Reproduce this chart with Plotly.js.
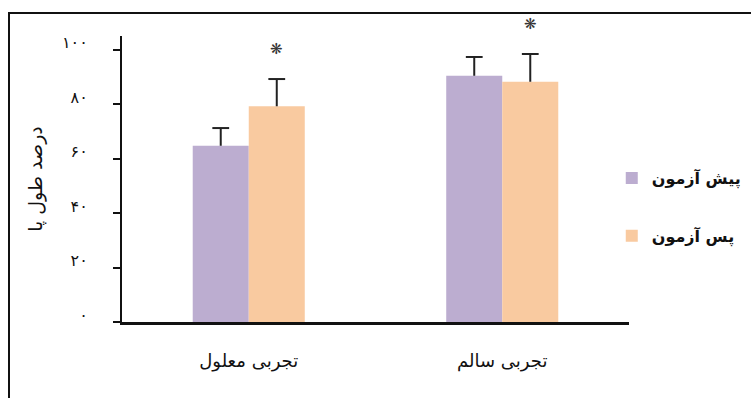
<!DOCTYPE html>
<html>
<head>
<meta charset="utf-8">
<script src="https://cdn.plot.ly/plotly-3.0.1.min.js"></script>
<style>
html, body { margin: 0; padding: 0; background: #fff; }
#wrap { position: relative; width: 751px; height: 398px; overflow: hidden; }
#chart { width: 751px; height: 398px; }
#frame { position: absolute; left: 8px; top: 12px; width: 800px; height: 500px;
  border-left: 2px solid #111; border-top: 2px solid #111; pointer-events: none; }
</style>
</head>
<body>
<div id="wrap">
  <div id="chart"></div>
  <div id="frame"></div>
</div>
<script>
// ---- data ----
const categories = ["تجربی معلول", "تجربی سالم"];
const seriesNames = ["پیش آزمون", "پس آزمون"];
const preValues = [64.7, 90.4];
const preErrors = [6.5, 6.9];
const postValues = [79.2, 88.2];
const postErrors = [10.0, 10.2];
const postSignificant = [true, true];
const yTickValues = [0, 20, 40, 60, 80, 100];
const yTickLabels = ["۰", "۲۰", "۴۰", "۶۰", "۸۰", "۱۰۰"];
const yTitle = "درصد طول پا";

const FONT = "DejaVu Sans, sans-serif";
const colors = ["rgb(188,173,208)", "rgb(249,202,160)"];
const seriesValues = [preValues, postValues];
const seriesErrors = [preErrors, postErrors];

const traces = [];
seriesValues.forEach((vals, s) => {
  traces.push({
    type: "bar", name: seriesNames[s], x: categories, y: vals,
    legendgroup: "g" + s, offsetgroup: "o" + s,
    marker: { color: colors[s] },
    error_y: { type: "data", symmetric: false, array: seriesErrors[s],
               arrayminus: vals.map(() => 0), color: "#222", thickness: 2, width: 0 }
  });
});
// caps on top of error bars
seriesValues.forEach((vals, s) => {
  traces.push({
    type: "scatter", mode: "markers", x: categories,
    y: vals.map((v, i) => v + seriesErrors[s][i]),
    offsetgroup: "o" + s, showlegend: false, hoverinfo: "skip",
    marker: { symbol: "line-ew", size: 12, color: "#222", line: { width: 2, color: "#222" } }
  });
});

const annotations = [];
categories.forEach((c, i) => {
  if (postSignificant[i]) {
    annotations.push({
      x: c, y: postValues[i] + postErrors[i], xref: "x", yref: "y",
      text: "❋", showarrow: false, xshift: 28, yshift: 30,
      font: { family: FONT, size: 15, color: "#333" }
    });
  }
});

const layout = {
  width: 751, height: 398,
  margin: { l: 122, r: 122, t: 36, b: 76, pad: 0, autoexpand: false },
  paper_bgcolor: "#fff", plot_bgcolor: "#fff",
  barmode: "group", bargap: 0.558, bargroupgap: 0,
  scattermode: "group", scattergap: 0.558,
  font: { family: FONT, color: "#111" },
  showlegend: true,
  legend: {
    x: 0.966, xanchor: "left", y: 0.563, yanchor: "top",
    traceorder: "grouped", tracegroupgap: 34,
    font: { family: FONT, size: 16, color: "#111", weight: "bold" },
    bgcolor: "rgba(0,0,0,0)"
  },
  xaxis: {
    type: "category", range: [-0.5, 1.5], fixedrange: true,
    showline: true, linecolor: "#111", linewidth: 3,
    ticks: "", showgrid: false, zeroline: false,
    ticklabelstandoff: 20,
    tickfont: { family: FONT, size: 18, color: "#111" }
  },
  yaxis: {
    range: [0, 105], fixedrange: true,
    showline: true, linecolor: "#111", linewidth: 2,
    ticks: "outside", ticklen: 7, tickwidth: 2, tickcolor: "#111",
    tickvals: yTickValues, ticktext: yTickLabels,
    ticklabelstandoff: 22, ticklabelshift: -7,
    showgrid: false, zeroline: false, automargin: false,
    tickfont: { family: FONT, size: 16, color: "#111" },
    title: { text: yTitle, standoff: 14, font: { family: FONT, size: 19, color: "#111" } }
  },
  annotations: annotations
};

Plotly.newPlot("chart", traces, layout, { displayModeBar: false, staticPlot: true });
</script>
</body>
</html>
